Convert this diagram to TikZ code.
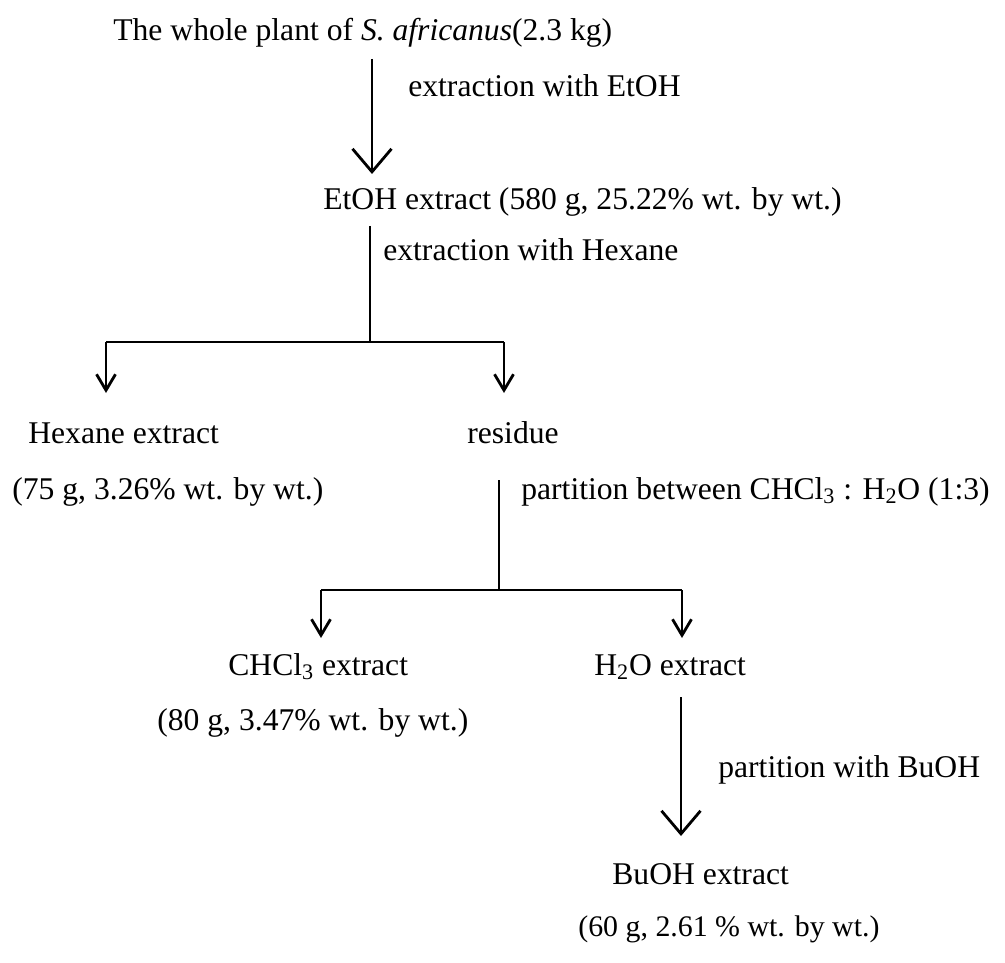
\documentclass[tikz,border=0pt]{standalone}
\usepackage{fontspec}
\setmainfont{Liberation Serif}
\usepackage{tikz}
\usetikzlibrary{arrows.meta,positioning,calc}

\begin{document}
\begin{tikzpicture}[x=0.02cm,y=-0.02cm,
  txt/.style={anchor=base west,inner sep=0pt,font=\fontsize{18}{21}\selectfont},
  bigarr/.style={line width=1.6pt,-{Straight Barb[length=0.46cm,width=0.78cm,line width=1.6pt]}},
  smallarr/.style={line width=1.6pt,-{Straight Barb[length=0.32cm,width=0.38cm,line width=1.6pt]}},
  plain/.style={line width=1.6pt}]
\useasboundingbox (0,0) rectangle (1005,963);

% plant and first extraction
\node[txt] (plant) at (113,41) {The whole plant of \textit{S. africanus}(2.3 kg)};
\node[txt] (etoh) at (323,210) {EtOH extract (580 g, 25.22\% wt. by wt.)};
\coordinate (a1top) at (372,59);
\coordinate (a1tip) at (372,174);
\draw[bigarr] (a1top) -- (a1tip);
\node[txt] (lbletoh) at (408,97) {extraction with EtOH};

% hexane split
\coordinate (s1top) at (370,226);
\coordinate (s1) at (370,342);
\coordinate (hexL) at (106,342);
\coordinate (hexR) at (504,342);
\draw[plain] (s1top) -- (s1);
\draw[plain] (hexL) -- (hexR);
\draw[smallarr] (hexL) -- ++(0,51);
\draw[smallarr] (hexR) -- ++(0,51);
\node[txt] (lblhex) at (383,260) {extraction with Hexane};
\node[txt] (hexane) at (28,443) {Hexane extract};
\node[txt] (hexval) at (12,499) {(75 g, 3.26\% wt. by wt.)};
\node[txt] (residue) at (467,443) {residue};

% chloroform / water partition
\coordinate (s2top) at (499,480);
\coordinate (s2) at (499,590);
\coordinate (chL) at (321,590);
\coordinate (chR) at (682,590);
\draw[plain] (s2top) -- (s2);
\draw[plain] (chL) -- (chR);
\draw[smallarr] (chL) -- ++(0,48);
\draw[smallarr] (chR) -- ++(0,48);
\node[txt] (lblpart) at (521,499) {partition between CHCl\textsubscript{3} : H\textsubscript{2}O (1:3)};
\node[txt] (chcl) at (228,675) {CHCl\textsubscript{3} extract};
\node[txt] (chval) at (157,730) {(80 g, 3.47\% wt. by wt.)};
\node[txt] (water) at (594,675) {H\textsubscript{2}O extract};

% butanol
\coordinate (a3top) at (681,697);
\coordinate (a3tip) at (681,836);
\draw[bigarr] (a3top) -- (a3tip);
\node[txt] (lblbu) at (718,777) {partition with BuOH};
\node[txt] (buoh) at (612,884) {BuOH extract};
\node[txt,font=\fontsize{17}{20}\selectfont] (buval) at (578,936) {(60 g, 2.61 \% wt. by wt.)};
\end{tikzpicture}
\end{document}
